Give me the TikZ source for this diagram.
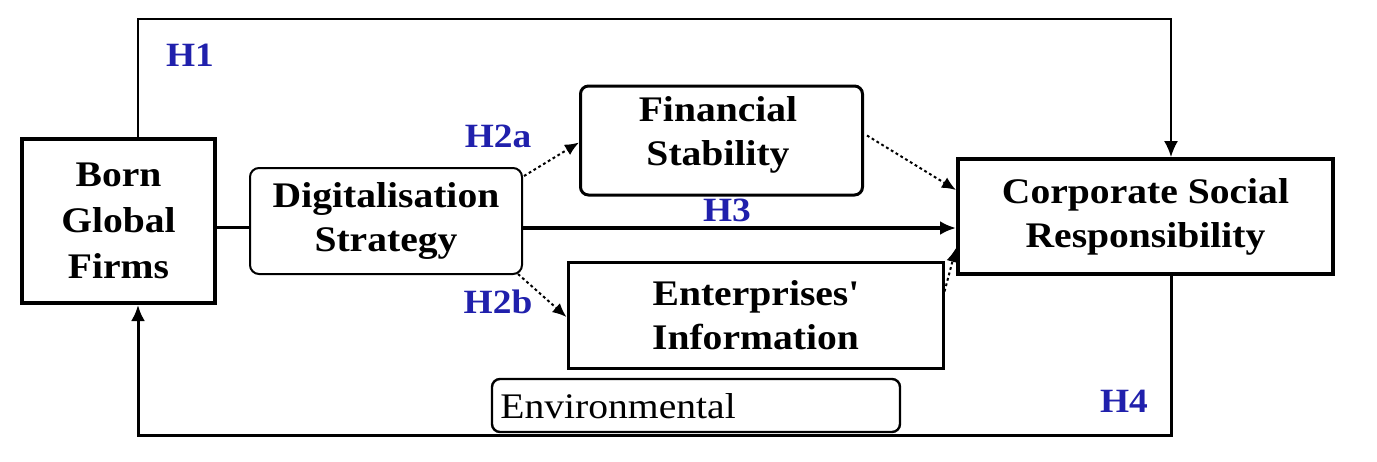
\documentclass[tikz,border=0pt]{standalone}
\usepackage{fontspec}
\setmainfont{Liberation Serif}[FakeStretch=1.1]
\usetikzlibrary{arrows.meta,calc}
\definecolor{hblue}{RGB}{32,32,172}
\begin{document}
\begin{tikzpicture}[x=0.5pt,y=-0.5pt,
  lbl/.style={font=\fontsize{18}{22}\selectfont\bfseries, align=center},
  hlab/.style={font=\fontsize{17}{17}\selectfont\bfseries, text=hblue, inner sep=0pt},
  sqbox/.style={draw, inner sep=0pt, fill=white},
  rbox/.style={draw, inner sep=0pt, fill=white, rounded corners=4.5pt},
  tip/.style={-{Latex[length=8pt,width=7pt]}},
  dotline/.style={line width=1pt, dash pattern=on 1.4pt off 1.4pt, -{Latex[length=7pt,width=6pt]}},
]
\useasboundingbox (0,0) rectangle (1377,461);
\fill[white] (0,0) rectangle (1377,461);

% boxes
\node[sqbox, line width=2pt, minimum width=96.5pt, minimum height=82pt, lbl, font=\fontsize{18}{23}\selectfont\bfseries] (born) at (118.5,221) {Born\\Global\\Firms};
\node[rbox, line width=1pt, minimum width=136pt, minimum height=53pt, lbl] (digi) at (386,221) {Digitalisation\\Strategy};
\node[rbox, line width=1.5pt, rounded corners=4pt, minimum width=141pt, minimum height=54.5pt] (fs) at (721.5,140.5) {};
\node[lbl] (fstext) at (718,135) {Financial\\Stability};
\node[sqbox, line width=1.5pt, minimum width=187.5pt, minimum height=53pt, lbl] (ei) at (755.5,315) {Enterprises\textquotesingle\\Information};
\node[sqbox, line width=2pt, minimum width=187.5pt, minimum height=57.5pt, lbl] (csr) at (1145.5,216.5) {Corporate Social\\Responsibility};

% reference coordinates of the outer loops
\coordinate (tl) at (138,19);
\coordinate (tr) at (1171,19);
\coordinate (bl) at (138,435);
\coordinate (br) at (1171,435);
\coordinate (h3) at (0,228);

% H1
\draw[line width=0.9pt, tip] (born.north -| tl) -- (tl) -- (tr) -- (csr.north -| tr);
% H4
\draw[line width=1.5pt, tip] (csr.south -| br) -- (br) -- (bl) -- (born.south -| bl);

% Born -> Digitalisation
\draw[line width=1.5pt] ([yshift=-3pt]born.east) -- ([yshift=-3pt]digi.west);
% H3
\draw[line width=1.6pt, tip] (digi.east |- h3) -- (csr.west |- h3);
% H2a / H2b
\draw[dotline] ($(digi.north east)+(1,9)$) -- ($(fs.west)+(0,2)$);
\draw[dotline] ($(digi.south east)+(-5,-1)$) -- ($(ei.west)+(0,2)$);
% mediators -> CSR
\draw[dotline] ($(fs.east)+(3,-5)$) -- ($(csr.west)+(0,-26.5)$);
\draw[dotline] ($(ei.north east)+(0,31)$) -- ($(csr.west)+(0,31.5)$);

% environmental box
\node[rbox, line width=1.2pt, rounded corners=4pt, minimum width=204pt, minimum height=26.5pt] (env) at (696,405.5) {};
\node[font=\fontsize{18}{22}\selectfont, anchor=base west, inner sep=0pt] (envtext) at (500,418) {Environmental};

% hypothesis labels
\node[hlab] (lh1) at (190,55) {H1};
\node[hlab] (lh2a) at (498,136) {H2a};
\node[hlab] (lh2b) at (498,302) {H2b};
\node[hlab] (lh3) at (727,210) {H3};
\node[hlab] (lh4) at (1124,401) {H4};
\end{tikzpicture}
\end{document}
